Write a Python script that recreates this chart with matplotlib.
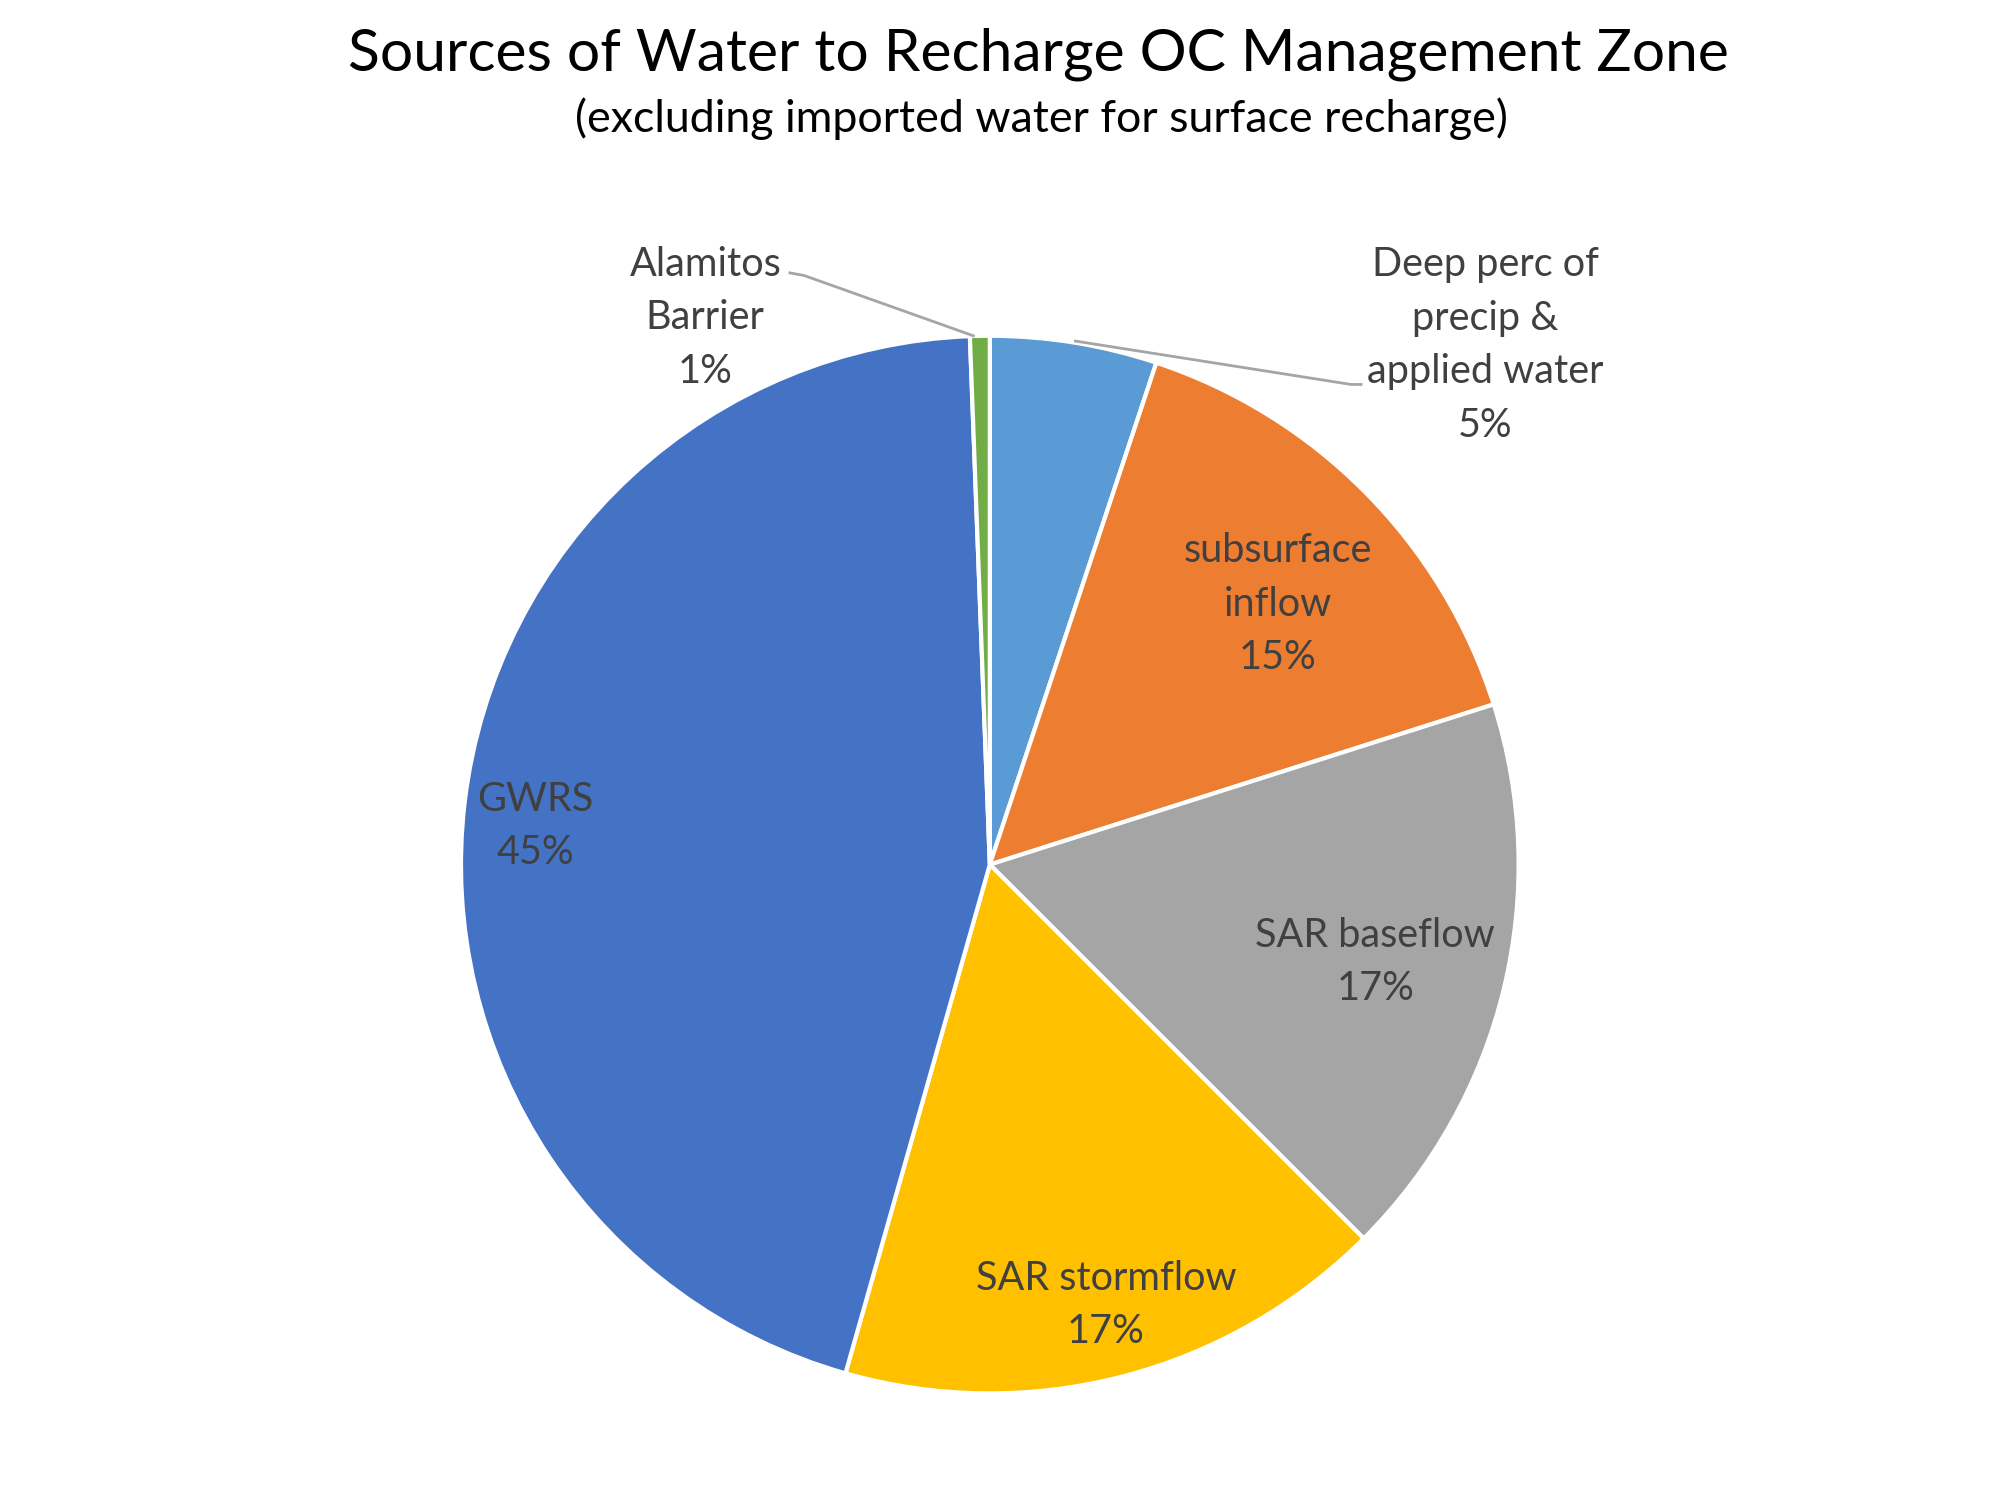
import matplotlib
matplotlib.use("Agg")
import matplotlib.pyplot as plt

categories = ["Deep perc of\nprecip &\napplied water", "subsurface\ninflow", "SAR baseflow",
              "SAR stormflow", "GWRS", "Alamitos\nBarrier"]
values = [5.1, 15.0, 17.4, 16.9, 45.0, 0.6]
colors = ["#5B9BD5", "#ED7D31", "#A5A5A5", "#FFC000", "#4472C4", "#70AD47"]

title = "Sources of Water to Recharge OC Management Zone"
subtitle = "(excluding imported water for surface recharge)"

plt.rcParams['font.family'] = ['Lato', 'DejaVu Sans']

fig = plt.figure(figsize=(20, 15), dpi=100)
ax = fig.add_axes([0.2305, 0.0709, 0.5288, 0.7054])
wedges, _ = ax.pie(values, colors=colors, startangle=90, counterclock=False, radius=1.0,
                   wedgeprops=dict(edgecolor="white", linewidth=3))
ax.set_xlim(-1, 1)
ax.set_ylim(-1, 1)
ax.set_aspect("equal")
ax.axis("off")

total = sum(values)
label_pos = [(0.937, 0.983), (0.545, 0.492), (0.729, -0.184), (0.220, -0.833),
             (-0.860, 0.073), (-0.538, 1.034)]
tc = "#404040"
for cat, v, (x, y) in zip(categories, values, label_pos):
    ax.text(x, y, f"{cat}\n{v / total * 100:.0f}%", ha="center", va="center",
            fontsize=28.5, color=tc, linespacing=1.55, clip_on=False)

# leader lines
ax.plot([-0.378, -0.351, -0.031], [1.119, 1.114, 1.0], color="#A5A5A5", lw=2, clip_on=False)
ax.plot([0.162, 0.683, 0.702], [0.99, 0.908, 0.908], color="#A5A5A5", lw=2, clip_on=False)

fig.text(0.519, 0.964, title, ha="center", va="center", fontsize=42.3, color="black")
fig.text(0.5205, 0.921, subtitle, ha="center", va="center", fontsize=32.2, color="black")

fig.savefig("out.png", dpi=100, facecolor="white")
